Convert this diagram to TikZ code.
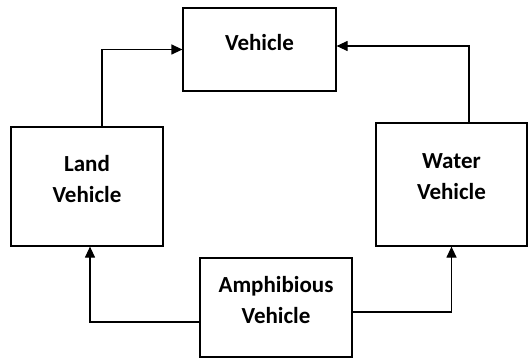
\documentclass[tikz,border=0pt]{standalone}
\usepackage{fontspec}
\setmainfont{Carlito}
\usepackage{tikz}
\usetikzlibrary{positioning,arrows.meta}

\begin{document}
\begin{tikzpicture}[x=1pt,y=-1pt,>={Triangle[length=11pt,width=10pt]},
                    line width=1.2pt]
  \tikzstyle{every node}=[font=\bfseries\fontsize{23}{31}\selectfont]
  \tikzstyle{classbox}=[draw=black,rectangle,align=center,inner sep=0pt,
                        text depth=15pt]
  \useasboundingbox (0,0) rectangle (530,358);

  \node[classbox,minimum width=153pt,minimum height=83pt]  (veh)  at (259.5,49.5) {Vehicle};
  \node[classbox,minimum width=152pt,minimum height=119pt] (land) at (87,186.5)   {Land\\Vehicle};
  \node[classbox,minimum width=151pt,minimum height=123pt] (water) at (451.5,184.5) {Water\\Vehicle};
  \node[classbox,minimum width=152pt,minimum height=99pt]  (amph) at (276,307.5)  {Amphibious\\Vehicle};

  % inheritance
  \draw[->] ([xshift=15pt]land.north) |- (veh.west);
  \draw[->] ([xshift=17.5pt]water.north) |- ([yshift=3.5pt]veh.east);
  \draw[->] ([yshift=-14.5pt]amph.west) -| ([xshift=3pt]land.south);
  \draw[->] ([yshift=-4.5pt]amph.east) -| (water.south);
\end{tikzpicture}
\end{document}
